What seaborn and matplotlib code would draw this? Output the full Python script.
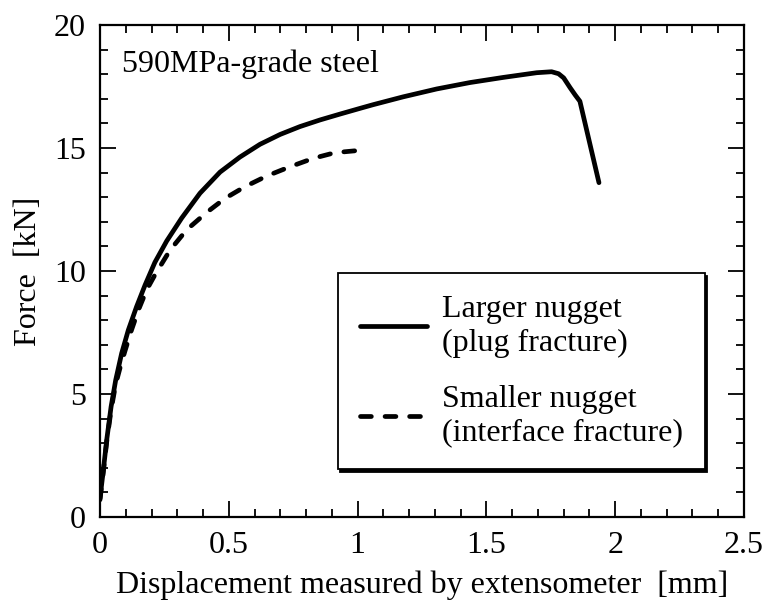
import numpy as np
import pandas as pd
import matplotlib
matplotlib.use("Agg")
import matplotlib.pyplot as plt
import seaborn as sns

# Larger nugget (plug fracture) - solid
large_x = [0.0, 0.013, 0.026, 0.043, 0.061, 0.084, 0.110, 0.142, 0.175, 0.213, 0.259,
           0.317, 0.388, 0.466, 0.543, 0.621, 0.699, 0.776, 0.854, 0.932, 1.009, 1.060,
           1.177, 1.307, 1.436, 1.566, 1.695, 1.753, 1.780, 1.800, 1.825, 1.845, 1.863, 1.937]
large_y = [0.76, 1.91, 3.13, 4.48, 5.57, 6.65, 7.60, 8.55, 9.43, 10.35, 11.22,
           12.15, 13.16, 14.02, 14.63, 15.15, 15.55, 15.87, 16.14, 16.38, 16.61, 16.76,
           17.08, 17.40, 17.66, 17.87, 18.06, 18.10, 18.02, 17.85, 17.45, 17.15, 16.90, 13.59]

# Smaller nugget (interface fracture) - dashed
small_x = [0.0, 0.013, 0.026, 0.043, 0.061, 0.080, 0.097, 0.120, 0.149, 0.181, 0.213,
           0.272, 0.336, 0.414, 0.485, 0.563, 0.647, 0.738, 0.828, 0.912, 0.994]
small_y = [0.70, 1.85, 3.05, 4.35, 5.40, 6.15, 6.75, 7.53, 8.41, 9.23, 9.84,
           10.85, 11.67, 12.38, 12.95, 13.43, 13.86, 14.24, 14.58, 14.81, 14.89]

labels = ["Larger nugget\n(plug fracture)", "Smaller nugget\n(interface fracture)"]
x_ticks = [0, 0.5, 1, 1.5, 2, 2.5]
x_ticklabels = ["0", "0.5", "1", "1.5", "2", "2.5"]
y_ticks = [0, 5, 10, 15, 20]
y_ticklabels = ["0", "5", "10", "15", "20"]

sns.set_theme(style="ticks")
plt.rcParams["font.family"] = ["Liberation Serif", "DejaVu Serif"]
plt.rcParams["text.color"] = "black"
plt.rcParams["axes.labelcolor"] = "black"
plt.rcParams["xtick.color"] = "black"
plt.rcParams["ytick.color"] = "black"

FS = 23

fig = plt.figure(figsize=(7.66, 6.06), dpi=100)
ax = fig.add_axes([100 / 766, 1 - 517 / 606, 644 / 766, 492 / 606])

df_large = pd.DataFrame({"x": large_x, "y": large_y})
df_small = pd.DataFrame({"x": small_x, "y": small_y})

sns.lineplot(data=df_large, x="x", y="y", ax=ax, color="black", lw=3.4,
             sort=False, estimator=None, label=labels[0], solid_capstyle="round",
             solid_joinstyle="round")
sns.lineplot(data=df_small, x="x", y="y", ax=ax, color="black", lw=3.4,
             sort=False, estimator=None, label=labels[1],
             linestyle=(0, (2.3, 2.9)), dash_capstyle="round")

ax.set_xlim(0, 2.5)
ax.set_ylim(0, 20)
ax.set_xticks(x_ticks)
ax.set_xticklabels(x_ticklabels)
ax.set_yticks(y_ticks)
ax.set_yticklabels(y_ticklabels)
ax.set_xticks(np.arange(0, 2.51, 0.1), minor=True)
ax.set_yticks(np.arange(0, 20.1, 1), minor=True)

ax.tick_params(which="both", direction="in", top=True, right=True,
               colors="black", labelcolor="black", labelsize=FS, width=1.3)
ax.tick_params(which="major", length=11.5, pad=10)
ax.tick_params(which="minor", length=6)
for s in ax.spines.values():
    s.set_linewidth(1.6)
    s.set_color("black")

ax.set_xlabel("Displacement measured by extensometer  [mm]", fontsize=FS,
              labelpad=8, color="black")
ax.set_ylabel("Force  [kN]", fontsize=FS, labelpad=8, color="black")

ax.text(0.085, 18.4, "590MPa-grade steel", fontsize=FS, va="center", ha="left",
        color="black")

leg = ax.legend(loc="upper right", bbox_to_anchor=(0.939, 0.496), fontsize=FS,
                frameon=True, fancybox=False, shadow={"color": "black", "alpha": 1.0},
                edgecolor="black", framealpha=1.0, handlelength=2.1,
                handletextpad=0.47, labelspacing=0.85, borderpad=0.69,
                borderaxespad=0)
leg.get_frame().set_linewidth(1.3)
for t in leg.get_texts():
    t.set_color("black")

fig.savefig("out.png", dpi=100)
